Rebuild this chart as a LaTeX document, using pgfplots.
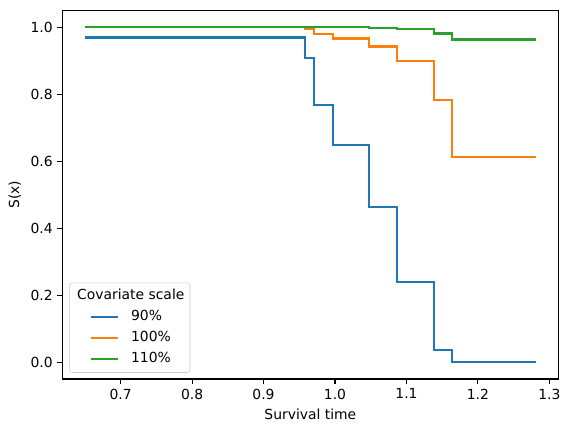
\documentclass[border=0pt]{standalone}
\usepackage{fontspec}
\setmainfont{DejaVu Sans}
\usepackage{pgfplots}
\pgfplotsset{compat=1.18}
\definecolor{C0}{HTML}{1F77B4}
\definecolor{C1}{HTML}{FF7F0E}
\definecolor{C2}{HTML}{2CA02C}
\begin{document}
\fontsize{10bp}{12bp}\selectfont
\begin{tikzpicture}
\path[use as bounding box] (-44.9bp,-38.9bp) rectangle (365.5bp,272.9bp);
\begin{axis}[
  at={(0,0)}, anchor=south west,
  scale only axis,
  width=357.1bp, height=265.2bp,
  xmin=0.6185, xmax=1.3125,
  ymin=-0.05, ymax=1.05,
  xtick={0.7,0.8,0.9,1.0,1.1,1.2,1.3},
  ytick={0,0.2,0.4,0.6,0.8,1.0},
  xticklabel style={/pgf/number format/.cd, fixed, fixed zerofill, precision=1},
  yticklabel style={/pgf/number format/.cd, fixed, fixed zerofill, precision=1},
  /pgf/number format/assume math mode=true,
  tick label style={font=\fontsize{10bp}{12bp}\selectfont},
  label style={font=\fontsize{10bp}{12bp}\selectfont},
  tick pos=left,
  tick align=outside,
  major tick length=3.5bp,
  tick style={black, line width=0.8bp},
  axis line style={draw=none},
  after end axis/.code={\draw[line width=0.8bp, black] (rel axis cs:0,0) rectangle (rel axis cs:1,1);},
  xlabel={Survival time},
  ylabel={S(x)},
  legend cell align=left,
  legend image code/.code={\draw[#1] (10.4bp,0bp) -- (30.4bp,0bp); \path (0bp,0bp);},
  legend style={
    at={(0,0)}, anchor=south west, xshift=5bp, yshift=4.5bp,
    draw=black!20, fill=white, rounded corners=2bp,
    inner xsep=4bp, inner ysep=5bp,
    font=\fontsize{10bp}{12bp}\selectfont,
    row sep=5.8bp, column sep=8.4bp,
    nodes={inner sep=0bp, text height=7.3bp, text depth=2bp},
  },
]
\addlegendimage{empty legend}
\addlegendentry{\hspace{-38.8bp}Covariate scale}
\addplot[C0, line width=1.5bp, const plot] coordinates {
 (0.65,0.970) (0.958,0.908) (0.970,0.768) (0.997,0.648) (1.048,0.464)
 (1.087,0.241) (1.139,0.038) (1.164,0.001) (1.281,0.001)};
\addlegendentry{90\%}
\addplot[C1, line width=1.5bp, const plot] coordinates {
 (0.65,1.000) (0.958,0.995) (0.970,0.981) (0.997,0.967) (1.048,0.943)
 (1.087,0.899) (1.139,0.782) (1.164,0.614) (1.281,0.614)};
\addlegendentry{100\%}
\addplot[C2, line width=1.5bp, const plot] coordinates {
 (0.65,1.000) (1.048,0.997) (1.087,0.994) (1.139,0.982) (1.164,0.964) (1.281,0.964)};
\addlegendentry{110\%}
\end{axis}
\end{tikzpicture}
\end{document}
